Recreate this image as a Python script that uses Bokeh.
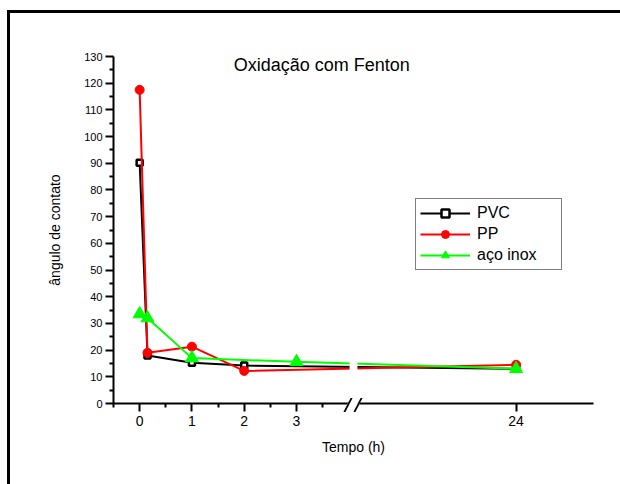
from bokeh.plotting import figure
from bokeh.models import (FixedTicker, BoxAnnotation, Label, Legend, LegendItem,
                          ColumnDataSource, InlineStyleSheet)
from bokeh.embed import file_html
from bokeh.resources import INLINE

# ---- data ----
time_pvc = [0, 0.15, 1, 2, 24]
pvc = [90.2, 18.0, 15.3, 14.2, 13.0]
time_pp = [0, 0.15, 1, 2, 24]
pp = [117.5, 19.0, 21.3, 12.2, 14.5]
time_inox = [0, 0.15, 1, 3, 24]
inox = [33.5, 32.0, 17.0, 15.6, 13.0]
x_tick_values = [0, 1, 2, 3, 24]
x_minor_values = [-0.5, 0.5, 1.5, 2.5, 3.5]
y_tick_values = list(range(0, 131, 10))
y_minor_values = list(range(5, 130, 10))

# ---- broken time axis: 0..4 h shown as is, 24 h shifted next to it ----
BREAK_START = 4.0
SHIFT = 16.8
BREAK_AT = 4.09


def bx(t):
    return t if t <= BREAK_START else t - SHIFT


FONT = "Liberation Sans"

p = figure(width=620, height=484, x_range=(-0.5, 8.68), y_range=(0, 130),
           output_backend="svg", toolbar_location=None,
           min_border_left=113, min_border_right=27,
           min_border_top=56, min_border_bottom=81)
p.xgrid.visible = False
p.ygrid.visible = False
p.outline_line_color = None
p.background_fill_color = "white"
p.border_fill_color = "white"

for ax in (p.xaxis[0], p.yaxis[0]):
    ax.axis_line_width = 2
    ax.major_tick_line_width = 2
    ax.minor_tick_line_width = 2
    ax.major_tick_in = 0
    ax.minor_tick_in = 0
    ax.major_tick_out = 8
    ax.minor_tick_out = 4
    ax.major_label_text_font = FONT
    ax.major_label_text_color = "black"
    ax.axis_label_text_font = FONT
    ax.axis_label_text_font_size = "14px"
    ax.axis_label_text_font_style = "normal"
    ax.axis_label_text_color = "black"

xt = [bx(t) for t in x_tick_values]
p.xaxis.ticker = FixedTicker(ticks=xt, minor_ticks=x_minor_values)
p.xaxis.major_label_overrides = {v: str(t) for v, t in zip(xt, x_tick_values)}
p.xaxis.major_label_text_font_size = "14px"
p.xaxis.major_label_standoff = 4
p.xaxis.axis_label = "Tempo (h)"
p.xaxis.axis_label_standoff = 10

p.yaxis.ticker = FixedTicker(ticks=y_tick_values, minor_ticks=y_minor_values)
p.yaxis.major_label_text_font_size = "11px"
p.yaxis.major_label_standoff = 3
p.yaxis.axis_label = "ângulo de contato"
p.yaxis.axis_label_standoff = 18

s_pvc = ColumnDataSource(dict(x=[bx(t) for t in time_pvc], y=pvc))
s_pp = ColumnDataSource(dict(x=[bx(t) for t in time_pp], y=pp))
s_inox = ColumnDataSource(dict(x=[bx(t) for t in time_inox], y=inox))

l1 = p.line("x", "y", source=s_pvc, line_color="black", line_width=2)
m1 = p.scatter("x", "y", source=s_pvc, marker="square", size=6,
               line_color="black", line_width=2.5, fill_color="white")
l2 = p.line("x", "y", source=s_pp, line_color="#ff0000", line_width=2)
m2 = p.scatter("x", "y", source=s_pp, marker="circle", size=9,
               line_color="#ff0000", fill_color="#ff0000")
l3 = p.line("x", "y", source=s_inox, line_color="#00ff00", line_width=2)
m3 = p.scatter("x", "y", source=s_inox, marker="triangle", size=13,
               line_color="#00ff00", fill_color="#00ff00")

# gap in the curves at the axis break
p.add_layout(BoxAnnotation(left=BREAK_AT - 0.075, right=BREAK_AT + 0.075,
                           bottom=2, top=100, fill_color="white", fill_alpha=1,
                           line_color=None, level="overlay"))

p.add_layout(Label(x=1.8, y=127, text="Oxidação com Fenton",
                   text_font=FONT, text_font_size="18px", text_color="black",
                   text_align="left", text_baseline="middle"))

legend = Legend(items=[
    LegendItem(label="PVC", renderers=[l1, m1]),
    LegendItem(label="PP", renderers=[l2, m2]),
    LegendItem(label="aço inox", renderers=[l3, m3]),
], location=(302, 133))
legend.label_text_font = FONT
legend.label_text_font_size = "16px"
legend.label_text_color = "black"
legend.glyph_width = 50
legend.glyph_height = 20
legend.label_height = 20
legend.label_width = 80
legend.label_standoff = 7
legend.spacing = 1
legend.padding = 4
legend.margin = 0
legend.border_line_color = "black"
legend.border_line_width = 1.5
legend.background_fill_alpha = 1
p.add_layout(legend)

# outer frame of the picture (left and top edges visible) and the
# "//" break mark across the time axis
p.stylesheets = [InlineStyleSheet(css="""
:host::after {
  content: '';
  position: absolute;
  left: 7px; top: 10px;
  width: 613px; height: 474px;
  border-left: 3px solid black;
  border-top: 3px solid black;
  box-sizing: border-box;
  pointer-events: none;
  z-index: 10;
}
:host::before {
  content: '';
  position: absolute;
  left: 347px; top: 398px;
  width: 12px; height: 14px;
  border-left: 2px solid black;
  border-right: 2px solid black;
  background: white;
  box-sizing: border-box;
  transform: skewX(-27deg);
  pointer-events: none;
  z-index: 10;
}
""")]

open("out.html", "w").write(file_html(p, INLINE))
